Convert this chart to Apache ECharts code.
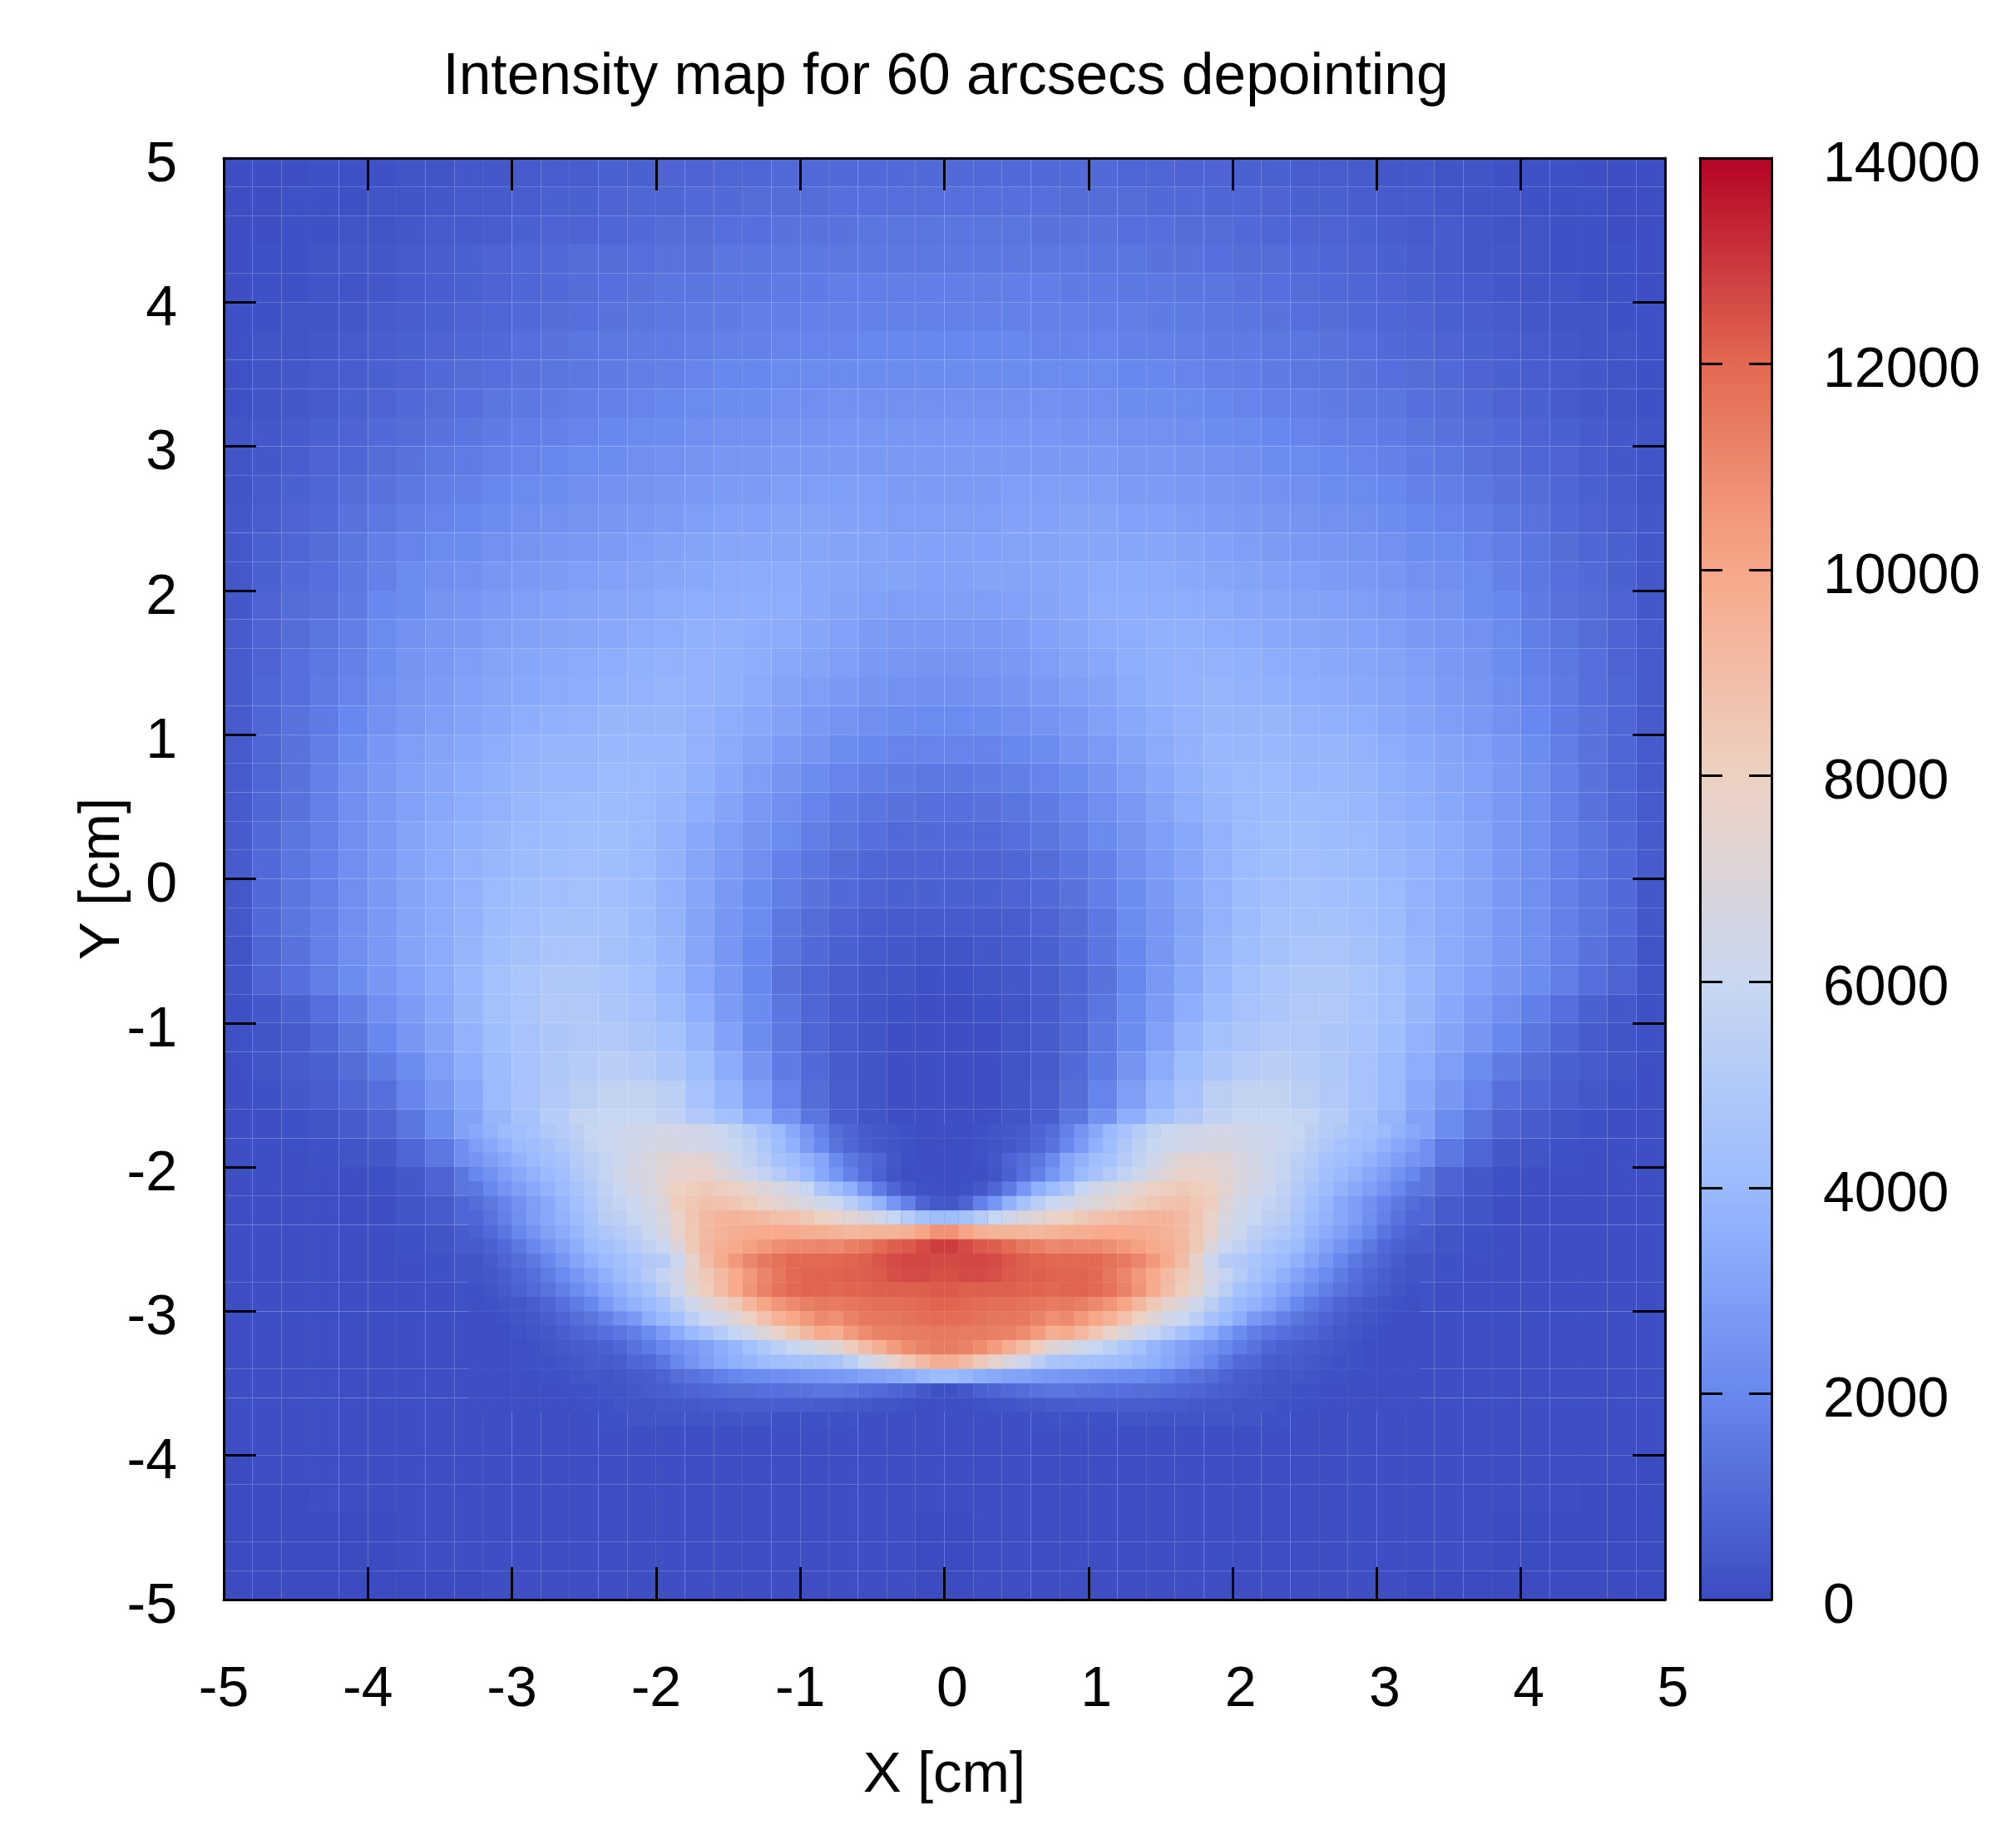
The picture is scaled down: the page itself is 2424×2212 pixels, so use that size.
<!DOCTYPE html>
<html>
<head>
<meta charset="utf-8">
<title>Intensity map</title>
<script src="https://cdn.jsdelivr.net/npm/echarts@6/dist/echarts.min.js"></script>
<style>
html,body{margin:0;padding:0;background:#fff}
#main{width:2424px;height:2212px}
</style>
</head>
<body>
<div id="main"></div>
<script>
var barStops = ['#3b4cc0','#6788ee','#9abbff','#c9d7f0','#edd1c2','#f7a889','#e26952','#b40426'];

// intensity, in units of 100
// whole map, cells 0.2 cm, first row y=4.9, last row y=-4.9, x from -4.9 to 4.9
var coarseRows = [
[1,1,1,2,2,2,3,3,4,4,5,6,6,7,7,8,8,9,9,10,10,10,10,10,10,10,10,10,10,10,10,9,9,8,8,7,7,6,6,5,4,4,3,3,2,2,2,1,1,1],
[1,1,2,2,2,3,3,4,5,5,6,7,7,8,9,9,10,10,11,11,11,12,12,12,12,12,12,12,12,11,11,11,10,10,9,9,8,7,7,6,5,5,4,3,3,2,2,2,1,1],
[1,1,2,2,3,3,4,5,5,6,7,8,8,9,10,11,11,12,12,13,13,13,14,14,14,14,14,14,13,13,13,12,12,11,11,10,9,8,8,7,6,5,5,4,3,3,2,2,1,1],
[1,2,2,3,4,4,5,6,7,8,9,10,11,11,12,13,13,14,14,15,15,15,15,15,15,15,15,15,15,15,14,14,13,13,12,11,11,10,9,8,7,6,5,4,4,3,2,2,2,1],
[1,2,2,3,3,4,5,6,7,8,9,10,11,12,13,14,14,15,15,16,16,17,17,17,17,17,17,17,17,16,16,15,15,14,14,13,12,11,10,9,8,7,6,5,4,3,3,2,2,1],
[2,2,3,3,4,5,6,7,8,9,10,11,12,13,14,15,16,16,17,17,18,18,18,18,18,18,18,18,18,18,17,17,16,16,15,14,13,12,11,10,9,8,7,6,5,4,3,3,2,2],
[2,3,3,4,5,6,7,8,9,10,12,13,14,15,16,16,17,18,18,19,19,19,20,20,20,20,20,20,19,19,19,18,18,17,16,16,15,14,13,12,10,9,8,7,6,5,4,3,3,2],
[2,3,4,5,6,7,8,10,11,12,13,14,15,16,17,18,19,20,20,21,21,21,22,22,22,22,22,22,21,21,21,20,20,19,18,17,16,15,14,13,12,11,10,8,7,6,5,4,3,2],
[2,3,4,5,7,8,10,11,12,14,15,16,17,18,19,20,21,22,22,23,23,24,24,24,24,24,24,24,24,23,23,22,22,21,20,19,18,17,16,15,14,12,11,10,8,7,5,4,3,2],
[3,4,5,7,8,10,11,13,14,16,17,18,19,20,21,22,23,24,24,25,25,26,26,26,26,26,26,26,26,25,25,24,24,23,22,21,20,19,18,17,16,14,13,11,10,8,7,5,4,3],
[3,4,6,8,9,11,13,15,16,18,19,20,21,22,23,24,25,26,26,27,27,27,27,27,27,27,27,27,27,27,27,26,26,25,24,23,22,21,20,19,18,16,15,13,11,9,8,6,4,3],
[3,5,7,9,11,13,15,17,18,20,21,22,23,24,25,26,27,28,28,29,29,29,29,28,28,28,28,29,29,29,29,28,28,27,26,25,24,23,22,21,20,18,17,15,13,11,9,7,5,3],
[4,6,8,10,13,15,17,19,20,22,23,24,25,26,27,28,29,30,30,31,31,30,30,29,29,29,29,30,30,31,31,30,30,29,28,27,26,25,24,23,22,20,19,17,15,13,10,8,6,4],
[4,7,9,11,14,17,19,21,22,24,25,26,27,28,29,30,31,32,32,32,32,31,31,30,30,30,30,31,31,32,32,32,32,31,30,29,28,27,26,25,24,22,21,19,17,14,11,9,7,4],
[4,7,10,12,15,18,21,23,24,26,27,28,29,30,31,32,33,34,34,34,33,32,31,31,30,30,31,31,32,33,34,34,34,33,32,31,30,29,28,27,26,24,23,21,18,15,12,10,7,4],
[4,8,11,13,16,20,22,25,26,28,29,30,31,32,33,34,35,35,35,35,33,31,30,29,29,29,29,30,31,33,35,35,35,35,34,33,32,31,30,29,28,26,25,22,20,16,13,11,8,4],
[5,8,11,14,17,21,24,26,27,29,30,31,32,33,34,35,36,36,35,34,32,30,28,27,27,27,27,28,30,32,34,35,36,36,35,34,33,32,31,30,29,27,26,24,21,17,14,11,8,5],
[5,8,12,15,18,22,25,27,29,31,32,33,34,35,36,37,37,36,35,33,31,29,27,26,25,25,26,27,29,31,33,35,36,37,37,36,35,34,33,32,31,29,27,25,22,18,15,12,8,5],
[5,9,12,16,19,23,26,28,30,32,33,34,35,36,37,38,37,36,34,31,29,27,25,24,23,23,24,25,27,29,31,34,36,37,38,37,36,35,34,33,32,30,28,26,23,19,16,12,9,5],
[5,9,13,16,20,24,27,29,31,33,35,36,37,38,38,38,37,35,33,30,27,25,23,22,21,21,22,23,25,27,30,33,35,37,38,38,38,37,36,35,33,31,29,27,24,20,16,13,9,5],
[5,9,13,17,22,26,29,31,33,35,37,38,38,39,39,39,37,34,31,28,25,22,20,19,19,19,19,20,22,25,28,31,34,37,39,39,39,38,38,37,35,33,31,29,26,22,17,13,9,5],
[5,9,13,18,23,27,30,32,34,36,38,39,39,40,40,39,36,33,29,25,22,19,17,16,15,15,16,17,19,22,25,29,33,36,39,40,40,39,39,38,36,34,32,30,27,23,18,13,9,5],
[5,9,13,18,23,27,30,33,35,37,39,40,41,41,40,38,35,31,27,23,19,16,14,13,12,12,13,14,16,19,23,27,31,35,38,40,41,41,40,39,37,35,33,30,27,23,18,13,9,5],
[5,10,14,18,23,27,31,34,36,38,40,41,42,42,40,37,33,29,25,21,17,14,12,10,10,10,10,12,14,17,21,25,29,33,37,40,42,42,41,40,38,36,34,31,27,23,18,14,10,5],
[5,10,14,18,23,27,31,34,37,39,41,42,43,42,40,37,32,28,23,18,14,11,9,8,8,8,8,9,11,14,18,23,28,32,37,40,42,43,42,41,39,37,34,31,27,23,18,14,10,5],
[4,10,14,18,23,27,31,34,37,40,42,43,44,43,41,37,32,27,22,17,13,10,8,7,7,7,7,8,10,13,17,22,27,32,37,41,43,44,43,42,40,37,34,31,27,23,18,14,10,4],
[4,10,14,18,23,27,31,34,37,41,43,45,45,44,41,37,31,26,21,15,11,8,6,5,5,5,5,6,8,11,15,21,26,31,37,41,44,45,45,43,41,37,34,31,27,23,18,14,10,4],
[3,9,13,18,23,27,31,34,38,42,45,47,47,45,42,38,32,26,20,14,10,7,5,4,3,3,4,5,7,10,14,20,26,32,38,42,45,47,47,45,42,38,34,31,27,23,18,13,9,3],
[3,8,12,17,22,26,30,34,39,44,47,49,49,47,44,39,33,27,20,13,9,6,4,3,2,2,3,4,6,9,13,20,27,33,39,44,47,49,49,47,44,39,34,30,26,22,17,12,8,3],
[2,4,7,12,17,23,28,33,38,44,47,50,50,48,46,41,35,28,21,14,9,5,3,2,1,1,2,3,5,9,14,21,28,35,41,46,48,50,50,47,44,38,33,28,23,17,12,7,4,2],
[2,3,5,9,14,20,26,31,37,42,46,48,50,50,48,44,38,30,22,15,9,5,3,1,1,1,1,3,5,9,15,22,30,38,44,48,50,50,48,46,42,37,31,26,20,14,9,5,3,2],
[1,3,5,7,11,16,22,29,35,41,46,49,52,53,52,48,42,34,25,16,10,5,3,1,1,1,1,3,5,10,16,25,34,42,48,52,53,52,49,46,41,35,29,22,16,11,7,5,3,1],
[1,2,4,6,9,12,19,26,33,40,46,50,54,57,57,54,46,38,29,19,11,6,3,1,1,1,1,3,6,11,19,29,38,46,54,57,57,54,50,46,40,33,26,19,12,9,6,4,2,1],
[1,1,2,3,5,8,14,22,30,38,45,52,58,59,59,56,50,44,35,24,14,6,3,1,1,1,1,3,6,14,24,35,44,50,56,59,59,58,52,45,38,30,22,14,8,5,3,2,1,1],
[1,1,1,2,3,4,9,15,23,31,40,48,57,66,70,69,64,57,48,35,20,8,3,1,1,1,1,3,8,20,35,48,57,64,69,70,66,57,48,40,31,23,15,9,4,3,2,1,1,1],
[1,1,1,1,1,2,4,8,14,22,32,42,52,70,75,78,78,72,64,54,34,14,6,2,1,1,2,6,14,34,54,64,72,78,78,75,70,52,42,32,22,14,8,4,2,1,1,1,1,1],
[1,1,1,1,1,1,3,5,9,15,23,33,44,60,72,81,83,83,80,76,66,50,28,13,8,8,13,28,50,66,76,80,83,83,81,72,60,44,33,23,15,9,5,3,1,1,1,1,1,1],
[1,1,1,1,1,1,2,3,5,9,17,27,37,50,62,82,85,87,87,88,88,92,100,102,100,100,102,100,92,88,88,87,87,85,82,62,50,37,27,17,9,5,3,2,1,1,1,1,1,1],
[1,1,1,1,1,1,1,2,3,5,9,15,25,42,58,80,88,92,100,105,115,118,122,124,125,125,124,122,118,115,105,100,92,88,80,58,42,25,15,9,5,3,2,1,1,1,1,1,1,1],
[1,1,1,1,1,1,1,1,2,3,5,8,14,28,42,70,84,94,104,108,112,114,116,118,118,118,118,116,114,112,108,104,94,84,70,42,28,14,8,5,3,2,1,1,1,1,1,1,1,1],
[1,1,1,1,1,1,1,1,1,1,2,3,7,14,22,48,62,75,88,98,105,108,110,111,112,112,111,110,108,105,98,88,75,62,48,22,14,7,3,2,1,1,1,1,1,1,1,1,1,1],
[1,1,1,1,1,1,1,1,1,1,1,2,3,8,12,24,30,38,50,60,72,80,88,93,95,95,93,88,80,72,60,50,38,30,24,12,8,3,2,1,1,1,1,1,1,1,1,1,1,1],
[1,1,1,1,1,1,1,1,1,1,1,2,2,3,5,11,13,15,18,20,23,25,28,30,32,32,30,28,25,23,20,18,15,13,11,5,3,2,2,1,1,1,1,1,1,1,1,1,1,1],
[1,1,1,1,1,1,1,1,1,1,1,1,1,2,3,3,3,3,3,2,2,2,1,1,1,1,1,1,2,2,2,3,3,3,3,3,2,1,1,1,1,1,1,1,1,1,1,1,1,1],
[1,1,1,1,1,1,1,1,1,1,1,1,1,1,1,1,1,1,1,1,1,1,1,1,1,1,1,1,1,1,1,1,1,1,1,1,1,1,1,1,1,1,1,1,1,1,1,1,1,1],
[0,1,1,1,1,1,1,1,1,1,1,1,1,1,1,1,1,1,1,1,1,1,1,1,1,1,1,1,1,1,1,1,1,1,1,1,1,1,1,1,1,1,1,1,1,1,1,1,1,0],
[0,0,0,1,1,1,1,1,1,1,1,1,1,1,1,1,1,1,1,1,1,1,1,1,1,1,1,1,1,1,1,1,1,1,1,1,1,1,1,1,1,1,1,1,1,1,1,0,0,0],
[0,0,0,0,0,0,1,1,1,1,1,1,1,1,1,1,1,1,1,1,1,1,1,1,0,0,1,1,1,1,1,1,1,1,1,1,1,1,1,1,1,1,1,1,0,0,0,0,0,0],
[0,0,0,0,0,0,1,1,1,1,1,1,1,1,1,1,1,1,1,1,1,1,1,1,0,0,1,1,1,1,1,1,1,1,1,1,1,1,1,1,1,1,1,1,0,0,0,0,0,0],
[0,0,0,0,0,0,0,0,0,1,1,1,1,1,1,1,1,1,1,1,1,1,1,1,0,0,1,1,1,1,1,1,1,1,1,1,1,1,1,1,1,0,0,0,0,0,0,0,0,0]
];
// crescent, cells 0.1 cm, first row y=-1.75, last row y=-3.65, x from -3.25 to 3.25
var fineRows = [
[33,37,41,43,46,49,52,55,59,60,62,63,64,65,65,64,63,60,57,52,46,40,33,25,18,11,8,5,4,3,2,1,1,1,1,2,3,4,5,8,11,18,25,33,40,46,52,57,60,63,64,65,65,64,63,62,60,59,55,52,49,46,43,41,37,33],
[29,33,37,41,43,46,49,53,58,60,62,63,65,66,66,65,64,62,59,55,49,42,36,28,20,13,9,6,4,3,2,1,1,1,1,2,3,4,6,9,13,20,28,36,42,49,55,59,62,64,65,66,66,65,63,62,60,58,53,49,46,43,41,37,33,29],
[25,29,33,37,40,43,46,51,54,58,61,65,68,72,74,74,73,68,62,57,52,46,42,37,32,21,15,11,8,4,2,1,1,1,1,2,4,8,11,15,21,32,37,42,46,52,57,62,68,73,74,74,72,68,65,61,58,54,51,46,43,40,37,33,29,25],
[20,24,29,33,37,40,43,49,53,58,63,66,68,72,76,77,78,72,67,62,57,52,46,40,33,26,18,12,7,3,1,1,1,1,1,1,3,7,12,18,26,33,40,46,52,57,62,67,72,78,77,76,72,68,66,63,58,53,49,43,40,37,33,29,24,20],
[15,20,25,29,33,37,41,46,51,56,61,64,68,74,80,82,84,82,79,75,71,68,64,59,48,42,36,26,16,9,4,2,1,1,2,4,9,16,26,36,42,48,59,64,68,71,75,79,82,84,82,80,74,68,64,61,56,51,46,41,37,33,29,25,20,15],
[11,15,19,24,29,33,38,43,49,55,58,61,65,70,82,85,88,87,85,82,78,74,70,67,63,60,53,46,37,26,18,8,4,4,8,18,26,37,46,53,60,63,67,70,74,78,82,85,87,88,85,82,70,65,61,58,55,49,43,38,33,29,24,19,15,11],
[9,13,18,23,29,33,37,41,47,53,55,59,63,68,78,86,91,94,94,93,91,89,87,84,80,77,73,69,64,59,52,45,42,42,45,52,59,64,69,73,77,80,84,87,89,91,93,94,94,91,86,78,68,63,59,55,53,47,41,37,33,29,23,18,13,9],
[7,10,14,20,25,30,34,38,45,49,52,55,61,66,76,85,91,94,97,98,99,99,98,97,96,94,92,93,94,94,96,101,107,107,101,96,94,94,93,92,94,96,97,98,99,99,98,97,94,91,85,76,66,61,55,52,49,45,38,34,30,25,20,14,10,7],
[5,7,10,15,20,25,30,35,41,44,47,52,56,60,70,84,92,96,99,102,105,108,110,110,111,110,113,115,119,122,123,126,129,129,126,123,122,119,115,113,110,111,110,110,108,105,102,99,96,92,84,70,60,56,52,47,44,41,35,30,25,20,15,10,7,5],
[3,5,8,11,15,20,26,31,36,40,43,47,50,52,60,76,90,98,105,111,115,117,120,120,120,120,121,122,124,126,127,127,126,126,127,127,126,124,122,121,120,120,120,120,117,115,111,105,98,90,76,60,52,50,47,43,40,36,31,26,20,15,11,8,5,3],
[3,4,6,9,12,16,21,26,31,36,41,46,52,58,64,76,84,91,99,105,111,116,120,121,121,121,122,122,123,125,126,126,125,125,126,126,125,123,122,122,121,121,121,120,116,111,105,99,91,84,76,64,58,52,46,41,36,31,26,21,16,12,9,6,4,3],
[2,3,5,7,10,13,17,22,27,32,37,41,46,54,62,73,82,90,99,106,112,117,120,121,121,120,121,121,122,122,122,122,123,123,122,122,122,122,121,121,120,121,121,120,117,112,106,99,90,82,73,62,54,46,41,37,32,27,22,17,13,10,7,5,3,2],
[1,2,3,4,6,8,12,16,20,27,33,37,40,46,54,62,69,76,84,93,101,106,110,113,115,114,116,117,118,118,119,120,121,121,120,119,118,118,117,116,114,115,113,110,106,101,93,84,76,69,62,54,46,40,37,33,27,20,16,12,8,6,4,3,2,1],
[1,1,2,3,4,6,8,11,14,18,23,27,35,40,46,54,60,64,72,80,88,95,100,105,110,108,112,115,116,116,117,118,119,119,118,117,116,116,115,112,108,110,105,100,95,88,80,72,64,60,54,46,40,35,27,23,18,14,11,8,6,4,3,2,1,1],
[1,1,1,2,3,4,6,8,10,12,14,17,22,28,34,40,46,52,58,62,70,78,85,92,99,96,104,109,112,113,114,114,115,115,114,114,113,112,109,104,96,99,92,85,78,70,62,58,52,46,40,34,28,22,17,14,12,10,8,6,4,3,2,1,1,1],
[1,1,1,1,2,3,4,5,6,7,9,13,16,20,24,27,30,34,38,44,49,54,59,63,68,72,82,90,97,104,109,112,114,114,112,109,104,97,90,82,72,68,63,59,54,49,44,38,34,30,27,24,20,16,13,9,7,6,5,4,3,2,1,1,1,1],
[1,1,1,1,2,2,3,4,5,5,6,9,10,14,20,25,29,33,36,38,41,43,44,45,46,47,53,62,68,76,84,91,97,97,91,84,76,68,62,53,47,46,45,44,43,41,38,36,33,29,25,20,14,10,9,6,5,5,4,3,2,2,1,1,1,1],
[1,1,1,1,1,2,2,3,4,3,4,5,6,8,11,13,15,18,20,21,22,23,24,25,26,27,28,30,31,33,35,38,41,41,38,35,33,31,30,28,27,26,25,24,23,22,21,20,18,15,13,11,8,6,5,4,3,4,3,2,2,1,1,1,1,1],
[1,1,1,1,1,1,1,2,2,3,3,4,5,6,7,8,9,10,11,11,12,12,13,13,14,14,13,11,10,8,7,4,2,2,4,7,8,10,11,13,14,14,13,13,12,12,11,11,10,9,8,7,6,5,4,3,3,2,2,1,1,1,1,1,1,1],
[1,1,1,1,1,1,1,1,2,2,3,3,3,4,4,4,5,5,6,6,6,6,6,6,5,5,4,4,3,3,2,1,1,1,1,2,3,3,4,4,5,5,6,6,6,6,6,6,5,5,4,4,4,3,3,3,2,2,1,1,1,1,1,1,1,1]
];

function buildCells(rows, x0, y0, step) {
    var out = [];
    rows.forEach(function (row, j) {
        row.forEach(function (v, i) {
            out.push([x0 + i * step, y0 - j * step, v * 100]);
        });
    });
    return out;
}

function cellRenderer(w, h) {
    return function (params, api) {
        var c = api.coord([api.value(0), api.value(1)]);
        var s = api.size([w, h]);
        return {
            type: 'rect',
            shape: {x: c[0] - s[0] / 2, y: c[1] - s[1] / 2, width: s[0], height: s[1]},
            style: {fill: api.visual('color')}
        };
    };
}

var FONT = '"Liberation Sans", Arial, Helvetica, sans-serif';
var FS = 68;
var line = {show: true, onZero: false, lineStyle: {color: '#000', width: 3}};
var lowered = {fontFamily: FONT, fontSize: FS, color: '#000', padding: [18, 0, 0, 0]};

function tick(len) {
    return {show: true, inside: true, length: len, lineStyle: {color: '#000', width: 3}};
}
function signedLabel(v) {
    // gnuplot leaves room for a sign, so plain numbers sit a little to the right
    return v < 0 ? String(v) : ' ' + v;
}
function loweredLabel(v) {
    return '{a|' + v + '}';
}

var myChart = echarts.init(document.getElementById('main'), null, {renderer: 'canvas'});

var option = {
    animation: false,
    backgroundColor: '#fff',
    title: {
        text: 'Intensity map for 60 arcsecs depointing',
        left: 1132, textAlign: 'center', top: 54,
        textStyle: {fontFamily: FONT, fontSize: 69.5, fontWeight: 'normal', color: '#000'}
    },
    grid: [
        {left: 269, top: 190, width: 1733, height: 1733},
        {left: 2044, top: 190, width: 86, height: 1733}
    ],
    visualMap: {
        type: 'continuous', min: 0, max: 14000, dimension: 2, seriesIndex: [0, 1],
        left: 2044, top: 190, itemWidth: 86, itemHeight: 1733, padding: 0,
        calculable: false, realtime: false, text: null, showLabel: false, hoverLink: false,
        inRange: {color: barStops}
    },
    xAxis: [
        {
            type: 'value', gridIndex: 0, min: -5, max: 5, interval: 1, position: 'bottom', z: 10,
            name: 'X [cm]', nameLocation: 'middle', nameGap: 177,
            nameTextStyle: {fontFamily: FONT, fontSize: 69, color: '#000'},
            axisLine: line, axisTick: tick(39), splitLine: {show: false},
            axisLabel: {fontFamily: FONT, fontSize: FS, color: '#000', margin: 75, formatter: signedLabel, hideOverlap: false}
        },
        {
            type: 'value', gridIndex: 0, min: -5, max: 5, interval: 1, position: 'top', z: 10,
            axisLine: line, axisTick: tick(39), splitLine: {show: false}, axisLabel: {show: false}
        },
        {
            type: 'value', gridIndex: 1, min: 0, max: 1, position: 'bottom', z: 10,
            axisLine: line, axisTick: {show: false}, splitLine: {show: false}, axisLabel: {show: false}
        },
        {
            type: 'value', gridIndex: 1, min: 0, max: 1, position: 'top', z: 10,
            axisLine: line, axisTick: {show: false}, splitLine: {show: false}, axisLabel: {show: false}
        }
    ],
    yAxis: [
        {
            type: 'value', gridIndex: 0, min: -5, max: 5, interval: 1, position: 'left', z: 10,
            name: 'Y [cm]', nameLocation: 'middle', nameGap: 111, nameRotate: 90, nameMoveOverlap: false,
            nameTextStyle: {fontFamily: FONT, fontSize: 69, color: '#000'},
            axisLine: line, axisTick: tick(39), splitLine: {show: false},
            axisLabel: {fontFamily: FONT, fontSize: FS, color: '#000', margin: 56, formatter: loweredLabel, rich: {a: lowered}}
        },
        {
            type: 'value', gridIndex: 0, min: -5, max: 5, interval: 1, position: 'right', z: 10,
            axisLine: line, axisTick: tick(39), splitLine: {show: false}, axisLabel: {show: false}
        },
        {
            type: 'value', gridIndex: 1, min: 0, max: 14000, interval: 2000, position: 'left', z: 10,
            axisLine: line, axisTick: tick(27), splitLine: {show: false}, axisLabel: {show: false}
        },
        {
            type: 'value', gridIndex: 1, min: 0, max: 14000, interval: 2000, position: 'right', z: 10,
            axisLine: line, axisTick: tick(27), splitLine: {show: false},
            axisLabel: {fontFamily: FONT, fontSize: FS, color: '#000', margin: 62, formatter: loweredLabel, rich: {a: lowered}}
        }
    ],
    series: [
        {
            type: 'custom', xAxisIndex: 0, yAxisIndex: 0, progressive: 0, silent: true, clip: true,
            encode: {x: 0, y: 1},
            renderItem: cellRenderer(0.2, 0.2),
            data: buildCells(coarseRows, -4.9, 4.9, 0.2)
        },
        {
            type: 'custom', xAxisIndex: 0, yAxisIndex: 0, progressive: 0, silent: true, clip: true,
            encode: {x: 0, y: 1},
            renderItem: cellRenderer(0.1, 0.1),
            data: buildCells(fineRows, -3.25, -1.75, 0.1)
        }
    ]
};

myChart.setOption(option);
</script>
</body>
</html>
